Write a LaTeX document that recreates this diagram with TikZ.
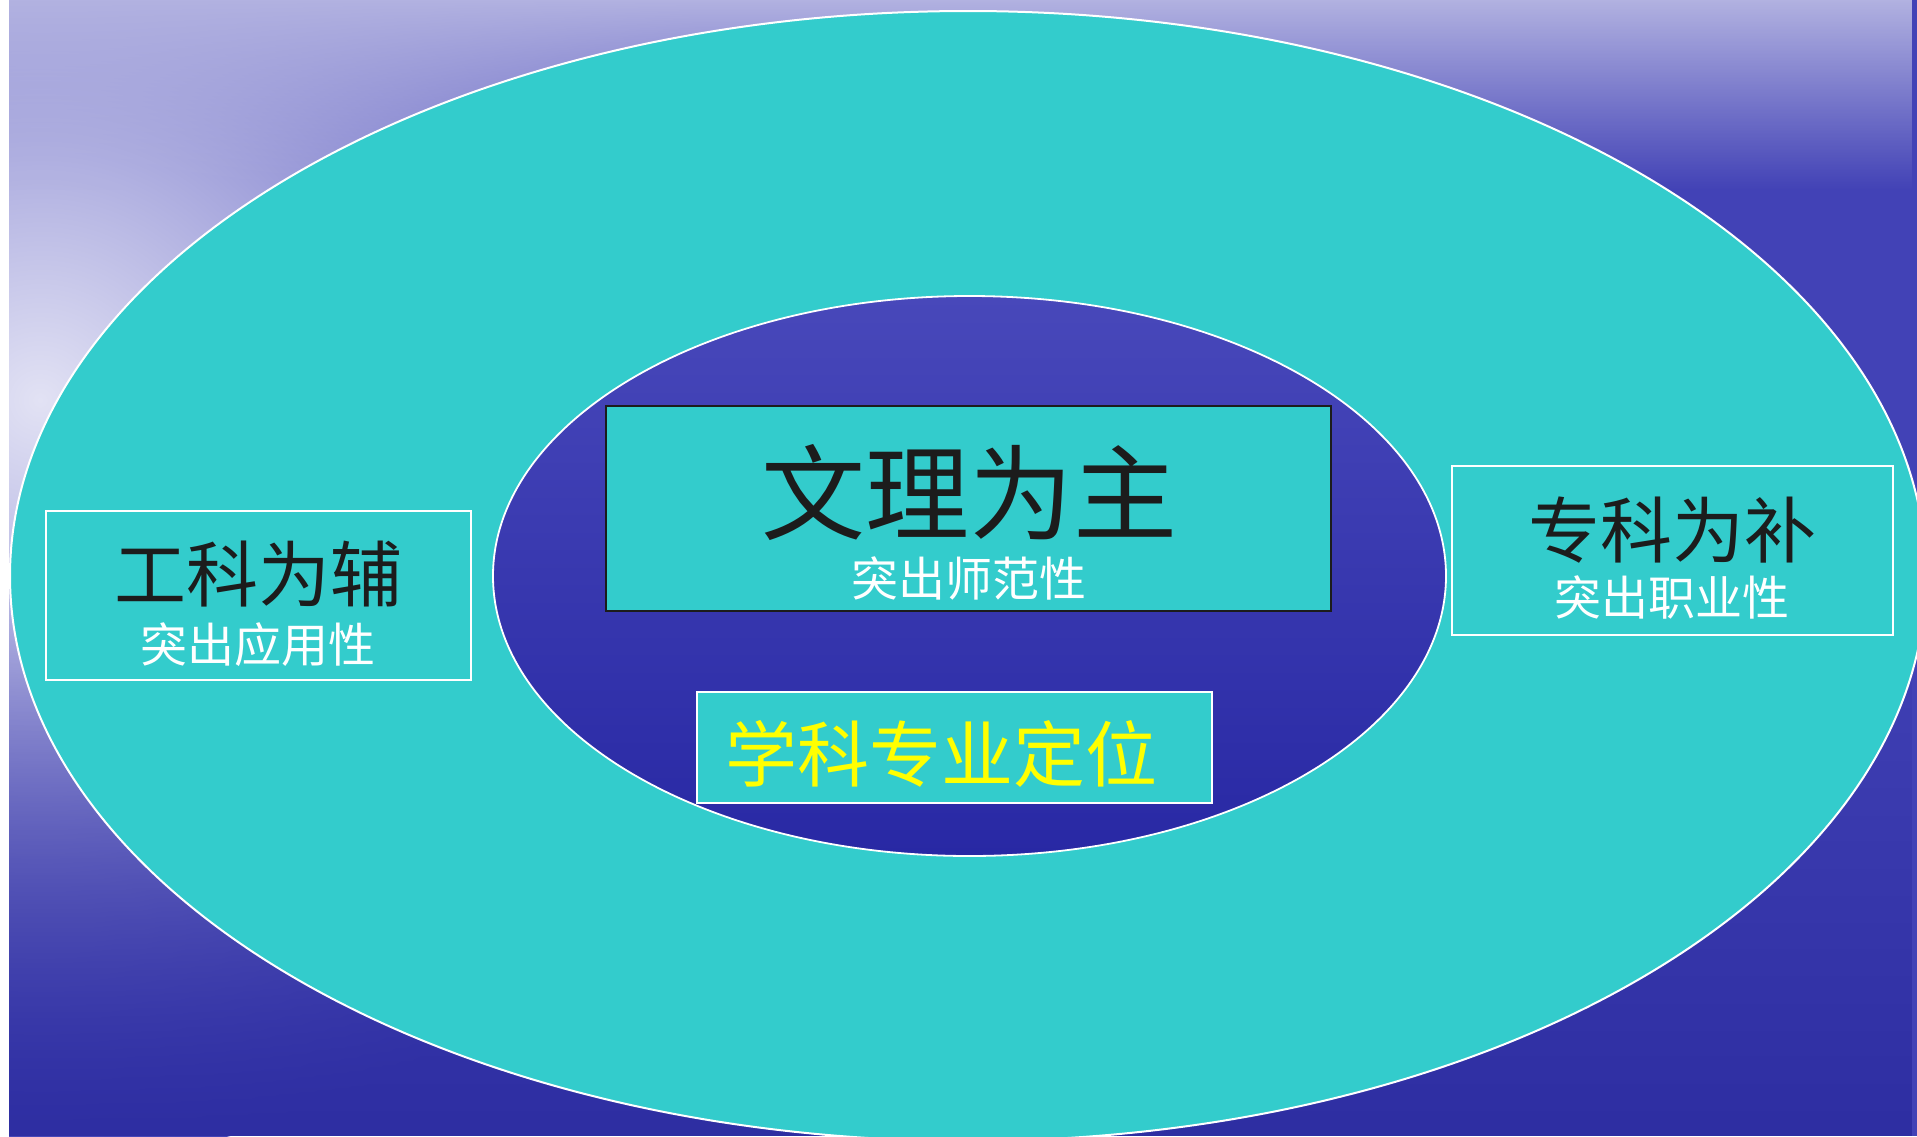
\documentclass[tikz,border=0pt]{standalone}
\usepackage{fontspec}
\newfontfamily\cjk{Noto Sans CJK SC}
\usetikzlibrary{positioning, fadings}

\definecolor{seaBlue}{RGB}{66,66,182}
\definecolor{seaDeep}{RGB}{46,46,162}
\definecolor{mist}{RGB}{226,226,244}
\definecolor{ringTeal}{RGB}{51,204,204}
\definecolor{holeTop}{RGB}{72,72,186}
\definecolor{holeBottom}{RGB}{40,40,164}
\definecolor{labelYellow}{RGB}{255,255,0}
\definecolor{ink}{RGB}{28,28,28}

\tikzset{
  whitebox/.style={draw=white, line width=1pt, fill=ringTeal, inner sep=0pt},
  darkbox/.style={draw=ink, line width=1.2pt, fill=ringTeal, inner sep=0pt},
  title/.style={inner sep=0pt, text=ink, font=\cjk\fontsize{36pt}{36pt}\selectfont},
  subtitle/.style={inner sep=0pt, text=white, font=\cjk\fontsize{23.5pt}{23.5pt}\selectfont},
}

\begin{document}
\begin{tikzpicture}[x=0.5pt, y=-0.5pt]
\useasboundingbox (0,0) rectangle (1917,1136);
\clip (0,0) rectangle (1917,1136);

% 背景
\fill[white] (0,0) rectangle (1917,1136);
\begin{scope}
  \clip (9,0) rectangle (1917,1136);
  \fill[seaBlue] (9,0) rectangle (1917,1136);
  \shade[inner color=mist, outer color=seaBlue] (40,400) circle [radius=380pt];
  \fill[mist!70!seaBlue, path fading=south] (9,0) rectangle (1917,190);
  \fill[seaDeep, path fading=north] (9,600) rectangle (1917,1136);
\end{scope}

% 外環と内側
\draw[white, line width=1pt, fill=ringTeal] (968,576) ellipse [x radius=479pt, y radius=282.5pt];
\path[draw=white, line width=0.9pt, top color=holeTop, bottom color=holeBottom]
  (969.5,576) ellipse [x radius=238.25pt, y radius=140pt];

% 枠
\node[darkbox, minimum width=362.5pt, minimum height=102.5pt] (mainBox) at (968.5,508.5) {};
\node[whitebox, minimum width=212.5pt, minimum height=84.5pt] (leftBox) at (258.5,595.5) {};
\node[whitebox, minimum width=220.5pt, minimum height=84.5pt] (rightBox) at (1672.5,550.5) {};
\node[whitebox, minimum width=257.5pt, minimum height=55.5pt] (posBox) at (954.5,747.5) {};

% 文字
\node[title, font=\cjk\fontsize{52pt}{52pt}\selectfont] (wenli) at (969,493) {文理为主};
\node[subtitle] (wenliSub) [below=7.5pt of wenli] {突出师范性};

\node[title] (gongke) at (258,574) {工科为辅};
\node[subtitle] (gongkeSub) [below=7.5pt of gongke] {突出应用性};

\node[title] (zhuanke) at (1672,530) {专科为补};
\node[subtitle] (zhuankeSub) [below=6pt of zhuanke] {突出职业性};

\node[title, text=labelYellow] (dingwei) at (941,754) {学科专业定位};

\end{tikzpicture}
\end{document}
